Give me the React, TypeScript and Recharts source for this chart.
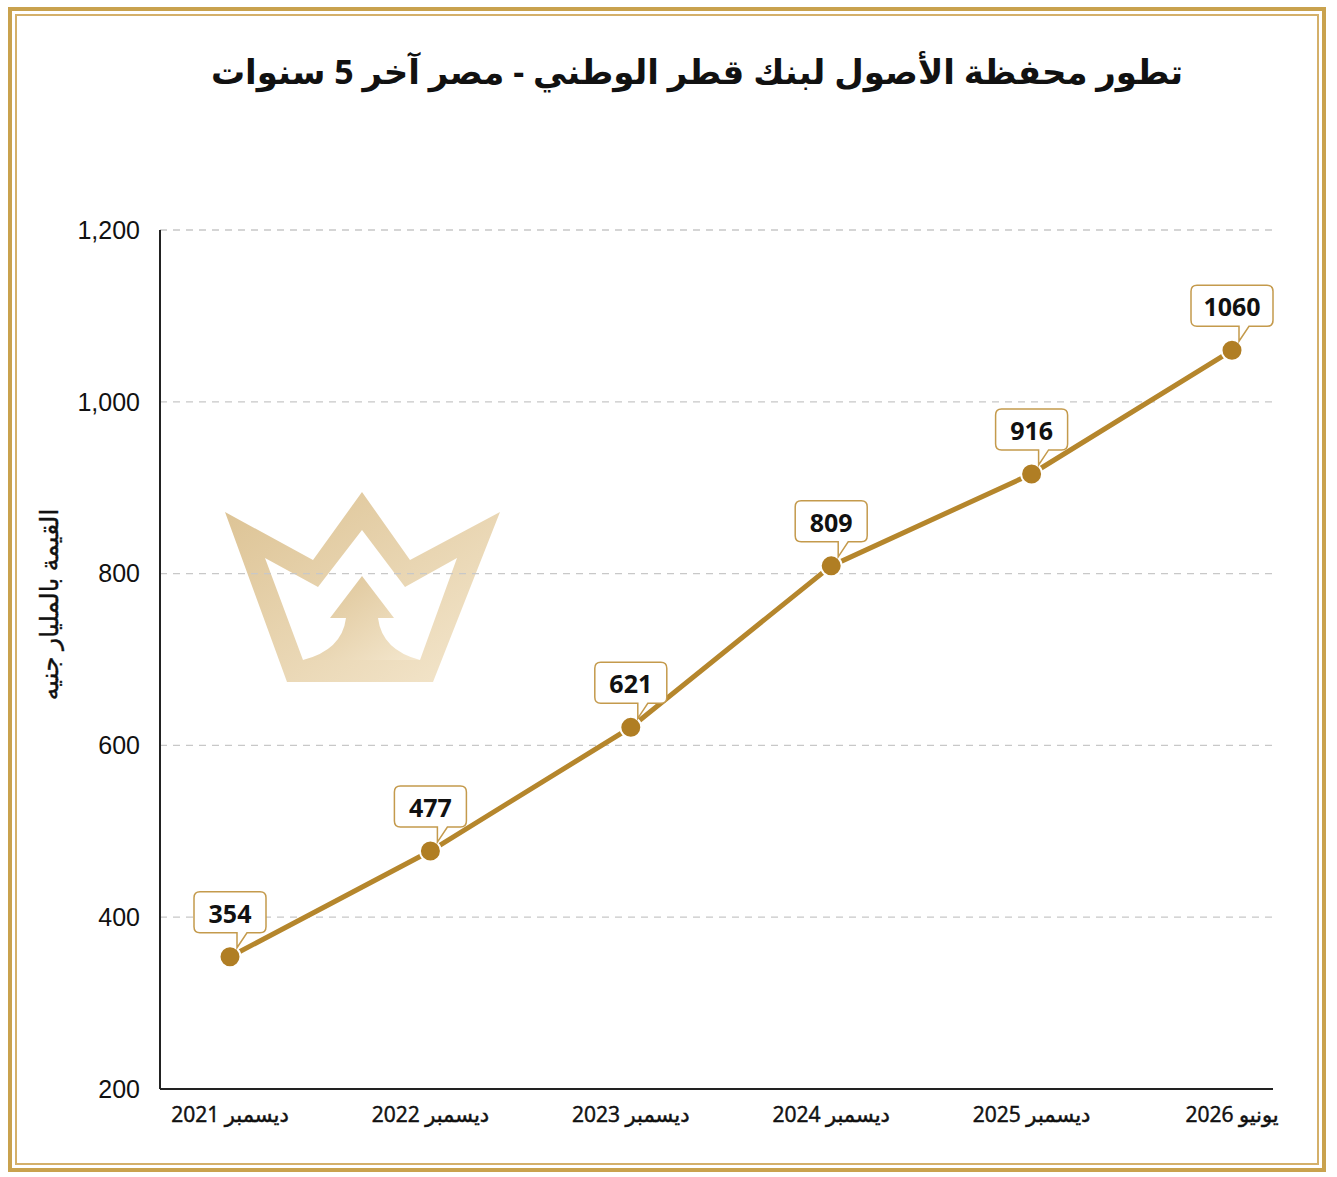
import { LineChart, Line, XAxis, YAxis, CartesianGrid, LabelList } from 'recharts';

const categories = ['ديسمبر 2021', 'ديسمبر 2022', 'ديسمبر 2023', 'ديسمبر 2024', 'ديسمبر 2025', 'يونيو 2026'];
const assets = [354, 477, 621, 809, 916, 1060];
const yTicks = [200, 400, 600, 800, 1000, 1200];

const TITLE = 'تطور محفظة الأصول لبنك قطر الوطني - مصر آخر 5 سنوات';
const Y_LABEL = 'القيمة بالمليار جنيه';

const GOLD = '#B5862C';
const ARABIC_FONT = "'Open Sans', 'DejaVu Sans', sans-serif";

const chartData = categories.map((label, i) => ({ label, value: assets[i] }));

// callout box with a small tail pointing down to the dot
function Callout(props: any) {
  const { x, y, value } = props;
  if (x == null || y == null) return null;
  const text = String(value);
  const w = text.length > 3 ? 82 : 72;
  const L = x - w / 2;
  const R = x + w / 2;
  const T = y - 65;
  const B = y - 24;
  const r = 6;
  const d = [
    `M ${L + r} ${T}`,
    `L ${R - r} ${T}`,
    `Q ${R} ${T} ${R} ${T + r}`,
    `L ${R} ${B - r}`,
    `Q ${R} ${B} ${R - r} ${B}`,
    `L ${x + 17} ${B}`,
    `L ${x + 7} ${y - 9}`,
    `L ${x + 7} ${B}`,
    `L ${L + r} ${B}`,
    `Q ${L} ${B} ${L} ${B - r}`,
    `L ${L} ${T + r}`,
    `Q ${L} ${T} ${L + r} ${T}`,
    'Z',
  ].join(' ');
  return (
    <g>
      <path d={d} fill="#fff" stroke="#C49A4C" strokeWidth={1.5} />
      <text
        x={x}
        y={y - 44}
        textAnchor="middle"
        dominantBaseline="central"
        fontFamily="'Open Sans', sans-serif"
        fontWeight={700}
        fontSize={25}
        fill="#111"
      >
        {text}
      </text>
    </g>
  );
}

function XTick(props: any) {
  const { x, y, payload } = props;
  return (
    <text
      x={x}
      y={y + 31}
      textAnchor="middle"
      direction="rtl"
      fontFamily={ARABIC_FONT}
      fontWeight={400}
      fontSize={21}
      fill="#111"
      stroke="#111"
      strokeWidth={0.5}
    >
      {payload.value}
    </text>
  );
}

// axis title, sits a little above the middle of the axis like the original
function YTitle(props: any) {
  const { viewBox } = props;
  const cx = 48;
  const cy = viewBox.y + viewBox.height / 2 - 55;
  return (
    <text
      x={cx}
      y={cy}
      transform={`rotate(-90, ${cx}, ${cy})`}
      textAnchor="middle"
      dominantBaseline="central"
      fontFamily={ARABIC_FONT}
      fontSize={25}
      fill="#111"
      stroke="#111"
      strokeWidth={0.4}
    >
      {Y_LABEL}
    </text>
  );
}

function Crown() {
  return (
    <svg width={1337} height={1177} style={{ position: 'absolute', left: 0, top: 0 }}>
      <defs>
        <linearGradient id="crownGold" x1="0" y1="0" x2="1" y2="1">
          <stop offset="0%" stopColor="#DCC293" />
          <stop offset="100%" stopColor="#F4E7CE" />
        </linearGradient>
      </defs>
      <path
        fillRule="evenodd"
        fill="url(#crownGold)"
        d="M 225 512 L 313 560 L 362 492 L 410 560 L 500 512 L 433 682 L 287 682 Z
           M 265 558 L 303 660 L 420 660 L 457 558 L 405 587 L 362 530 L 318 587 Z"
      />
      <path
        fill="url(#crownGold)"
        d="M 362 576 L 394 618 L 378 618 Q 382 650 420 660 L 303 660 Q 342 650 346 618 L 330 618 Z"
      />
    </svg>
  );
}

export default function App() {
  return (
    <div style={{ position: 'absolute', left: 0, top: 0, width: 1337, height: 1177, background: '#fff', overflow: 'hidden' }}>
      {/* double gold frame */}
      <div style={{ position: 'absolute', left: 8, top: 7, width: 1310, height: 1157, border: '4px solid #C9A24E' }} />
      <div style={{ position: 'absolute', left: 15, top: 14, width: 1300, height: 1147, border: '2.5px solid #D4B06A' }} />

      <Crown />

      <div
        dir="rtl"
        style={{
          position: 'absolute',
          left: 0,
          top: 48,
          width: 1394,
          textAlign: 'center',
          fontFamily: ARABIC_FONT,
          fontWeight: 700,
          fontSize: 34,
          color: '#111',
        }}
      >
        {TITLE}
      </div>

      <div style={{ position: 'absolute', left: 0, top: 0 }}>
        <LineChart width={1337} height={1177} data={chartData} margin={{ top: 230, right: 64, bottom: 0, left: 0 }}>
          <CartesianGrid vertical={false} stroke="#C8C8C8" strokeDasharray="7 6" strokeWidth={1.3} />
          <XAxis
            dataKey="label"
            padding={{ left: 70, right: 41 }}
            axisLine={{ stroke: '#222', strokeWidth: 2 }}
            tickLine={false}
            tickSize={0}
            height={88}
            tick={<XTick />}
            interval={0}
          />
          <YAxis
            domain={[200, 1200]}
            ticks={yTicks}
            width={160}
            axisLine={{ stroke: '#222', strokeWidth: 2 }}
            tickLine={false}
            tickSize={0}
            tickMargin={20}
            tickFormatter={(v: number) => v.toLocaleString('en-US')}
            tick={{ fill: '#111', fontSize: 25, fontFamily: "'Liberation Sans', Arial, sans-serif" }}
            label={<YTitle />}
          />
          <Line
            type="linear"
            dataKey="value"
            stroke={GOLD}
            strokeWidth={5}
            dot={{ r: 10.5, fill: '#B07E24', stroke: '#fff', strokeWidth: 2 }}
            activeDot={false}
            isAnimationActive={false}
          >
            <LabelList dataKey="value" content={<Callout />} />
          </Line>
        </LineChart>
      </div>
    </div>
  );
}
